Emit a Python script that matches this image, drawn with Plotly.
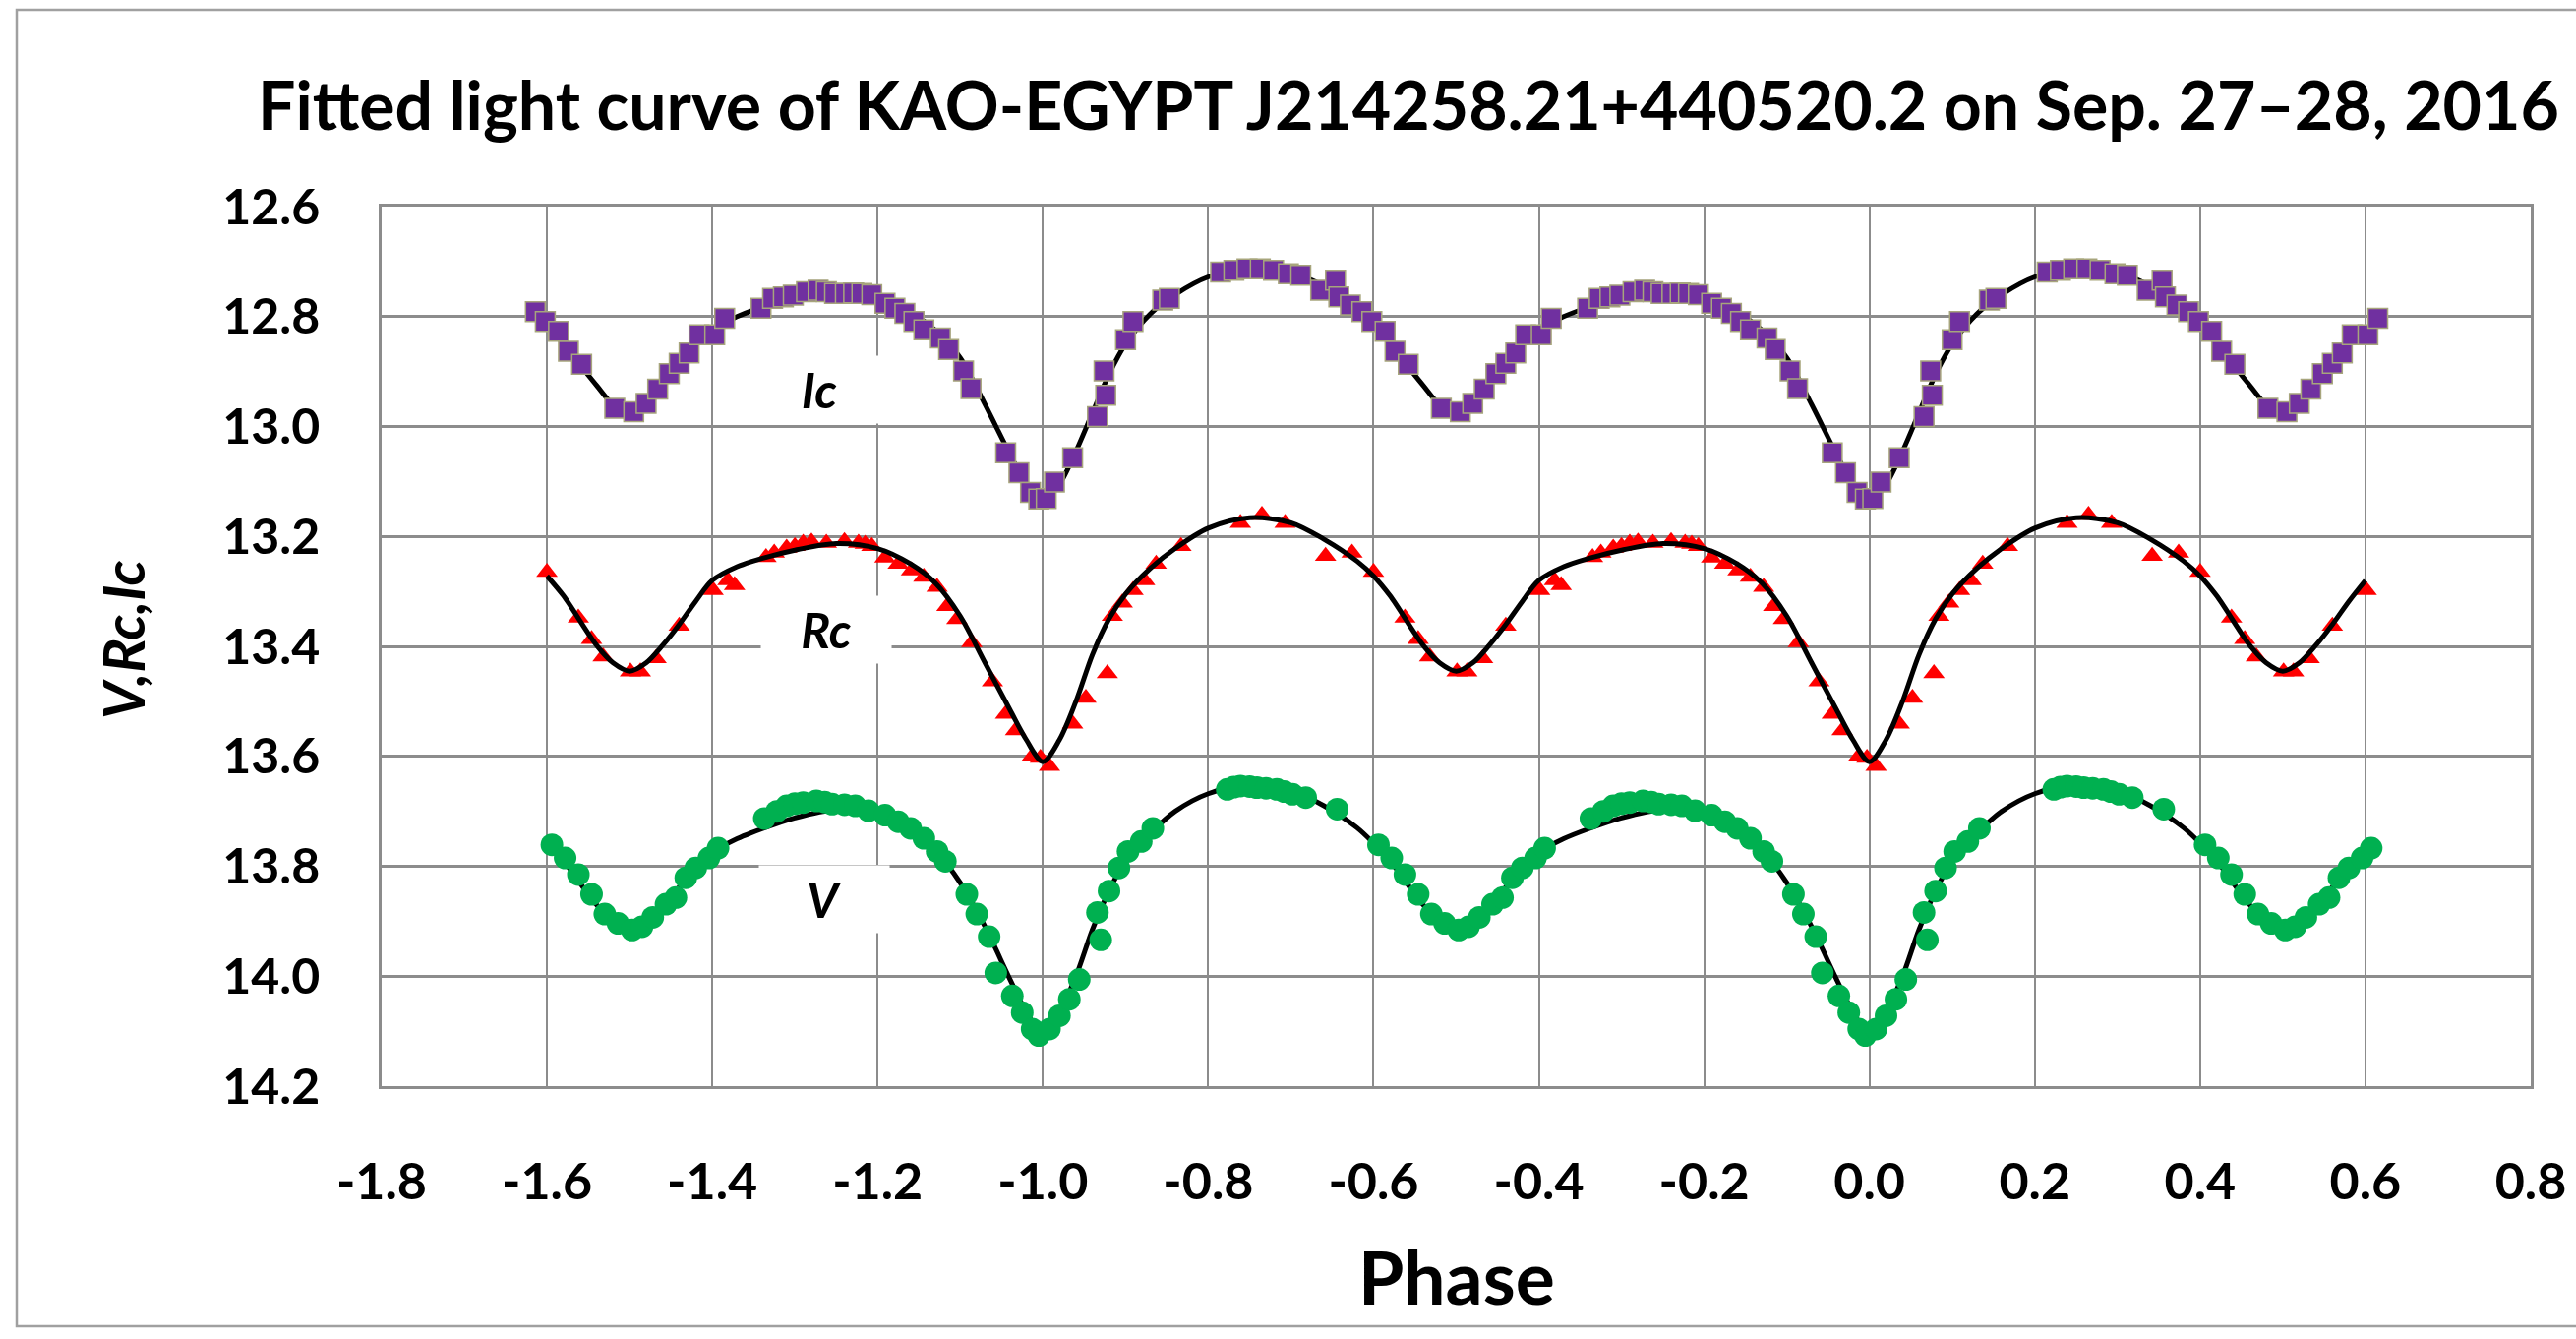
import plotly.graph_objects as go

# ---------------- data ----------------
# Observed magnitudes over one orbital cycle (phase, magnitude)
ic_phase = [-0.495, -0.480, -0.466, -0.452, -0.440, -0.428, -0.416, -0.397, -0.385, -0.341,
            -0.327, -0.314, -0.302, -0.286, -0.272, -0.262, -0.252, -0.239, -0.229, -0.219,
            -0.207, -0.191, -0.179, -0.167, -0.156, -0.144, -0.124, -0.114, -0.096, -0.087,
            -0.045, -0.029, -0.015, -0.005, 0.004, 0.014, 0.036, 0.066, 0.076, 0.074,
            0.100, 0.109, 0.145, 0.153, 0.215, 0.231, 0.247, 0.263, 0.279, 0.297,
            0.312, 0.336, 0.354, 0.358, 0.372, 0.386, 0.398, 0.414, 0.426, 0.442,
            0.482]
ic_mag = [12.973, 12.958, 12.932, 12.904, 12.885, 12.866, 12.833, 12.833, 12.803, 12.785,
          12.767, 12.764, 12.761, 12.755, 12.752, 12.755, 12.758, 12.758, 12.757, 12.758,
          12.760, 12.776, 12.785, 12.794, 12.809, 12.824, 12.839, 12.860, 12.899, 12.931,
          13.048, 13.084, 13.120, 13.132, 13.131, 13.101, 13.057, 12.982, 12.943, 12.899,
          12.842, 12.809, 12.770, 12.767, 12.719, 12.716, 12.713, 12.713, 12.716, 12.722,
          12.725, 12.752, 12.734, 12.764, 12.779, 12.791, 12.809, 12.827, 12.863, 12.887,
          12.967]

rc_phase = [-0.499, -0.487, -0.468, -0.440, -0.399, -0.381, -0.373, -0.335, -0.325, -0.310,
            -0.300, -0.290, -0.280, -0.262, -0.240, -0.223, -0.215, -0.207, -0.191, -0.175,
            -0.159, -0.144, -0.128, -0.116, -0.104, -0.086, -0.061, -0.045, -0.033, -0.013,
            -0.003, 0.008, 0.036, 0.052, 0.078, 0.084, 0.096, 0.109, 0.123, 0.137,
            0.167, 0.239, 0.265, 0.293, 0.342, 0.374, 0.400, 0.438, 0.454, 0.468]
rc_mag = [13.446, 13.446, 13.422, 13.363, 13.298, 13.280, 13.289, 13.238, 13.230, 13.221,
          13.218, 13.212, 13.210, 13.212, 13.209, 13.212, 13.214, 13.218, 13.239, 13.250,
          13.262, 13.274, 13.292, 13.327, 13.351, 13.393, 13.464, 13.523, 13.553, 13.600,
          13.603, 13.618, 13.541, 13.494, 13.449, 13.345, 13.321, 13.298, 13.280, 13.250,
          13.218, 13.176, 13.161, 13.176, 13.236, 13.230, 13.265, 13.348, 13.387, 13.419]

v_phase = [-0.497, -0.485, -0.472, -0.456, -0.444, -0.432, -0.420, -0.404, -0.393, -0.337,
           -0.322, -0.310, -0.300, -0.290, -0.274, -0.264, -0.255, -0.240, -0.227, -0.211,
           -0.191, -0.175, -0.160, -0.144, -0.128, -0.118, -0.092, -0.080, -0.065, -0.057,
           -0.037, -0.025, -0.013, -0.005, 0.008, 0.020, 0.032, 0.044, 0.070, 0.066,
           0.080, 0.092, 0.103, 0.119, 0.133, 0.223, 0.231, 0.239, 0.250, 0.259,
           0.270, 0.283, 0.292, 0.302, 0.318, 0.356, 0.406, 0.422, 0.438, 0.454,
           0.470, 0.486]
v_mag = [13.916, 13.910, 13.893, 13.869, 13.857, 13.821, 13.803, 13.785, 13.767, 13.713,
         13.700, 13.690, 13.686, 13.684, 13.681, 13.683, 13.687, 13.688, 13.690, 13.699,
         13.707, 13.719, 13.731, 13.749, 13.773, 13.791, 13.851, 13.887, 13.928, 13.994,
         14.036, 14.066, 14.096, 14.108, 14.096, 14.072, 14.042, 14.006, 13.934, 13.884,
         13.845, 13.803, 13.773, 13.755, 13.731, 13.660, 13.656, 13.654, 13.655, 13.657,
         13.658, 13.660, 13.664, 13.669, 13.675, 13.696, 13.761, 13.785, 13.815, 13.851,
         13.887, 13.904]

# Fitted model light curves over one cycle (phase knots, magnitude)
fit_phase = [-0.50, -0.48, -0.46, -0.44, -0.42, -0.40, -0.37, -0.34, -0.30, -0.25,
             -0.20, -0.16, -0.13, -0.10, -0.07, -0.04, -0.02, 0.00, 0.02, 0.04,
             0.06, 0.08, 0.10, 0.13, 0.16, 0.20, 0.25, 0.30, 0.34, 0.38,
             0.40, 0.42, 0.46, 0.48, 0.50]
ic_fit = [12.972, 12.960, 12.925, 12.885, 12.850, 12.822, 12.800, 12.783, 12.765, 12.757,
          12.764, 12.792, 12.825, 12.875, 12.960, 13.050, 13.105, 13.135, 13.105, 13.045,
          12.975, 12.905, 12.850, 12.795, 12.760, 12.728, 12.713, 12.720, 12.745, 12.785,
          12.812, 12.850, 12.925, 12.960, 12.972]
rc_fit = [13.445, 13.430, 13.398, 13.360, 13.318, 13.280, 13.255, 13.240, 13.225, 13.213,
          13.222, 13.250, 13.285, 13.345, 13.430, 13.515, 13.570, 13.610, 13.570, 13.500,
          13.415, 13.350, 13.305, 13.258, 13.222, 13.185, 13.166, 13.175, 13.205, 13.245,
          13.272, 13.308, 13.398, 13.430, 13.445]
v_fit = [13.912, 13.898, 13.870, 13.838, 13.805, 13.775, 13.750, 13.732, 13.712, 13.697,
         13.705, 13.735, 13.772, 13.830, 13.910, 14.005, 14.065, 14.105, 14.065, 14.000,
         13.915, 13.845, 13.790, 13.740, 13.700, 13.668, 13.652, 13.662, 13.690, 13.730,
         13.758, 13.790, 13.870, 13.898, 13.912]

x_ticks = [-1.8, -1.6, -1.4, -1.2, -1.0, -0.8, -0.6, -0.4, -0.2, 0.0, 0.2, 0.4, 0.6, 0.8]
x_tick_text = ["-1.8", "-1.6", "-1.4", "-1.2", "-1.0", "-0.8", "-0.6", "-0.4", "-0.2",
               "0.0", "0.2", "0.4", "0.6", "0.8"]
y_ticks = [12.6, 12.8, 13.0, 13.2, 13.4, 13.6, 13.8, 14.0, 14.2]
y_tick_text = ["12.6", "12.8", "13.0", "13.2", "13.4", "13.6", "13.8", "14.0", "14.2"]

PHASE_MIN, PHASE_MAX = -1.6, 0.6
CYCLE_SHIFTS = [-2, -1, 0, 1]


def fold_out(phases, mags, tol):
    """Repeat one cycle over the plotted phase window."""
    pts = []
    for s in CYCLE_SHIFTS:
        for p, m in zip(phases, mags):
            x = round(p + s, 4)
            if PHASE_MIN - tol <= x <= PHASE_MAX + tol:
                pts.append((x, m))
    pts = sorted(dict(pts).items())
    return [p for p, _ in pts], [m for _, m in pts]


# ---------------- figure geometry ----------------
W, H = 2619, 1361
L, R, T, B = 388, 46, 210, 257
PW, PH = W - L - R, H - T - B


def px(xp):
    return (xp - L) / PW


def py(yp):
    return (T + PH - yp) / PH


FONT = "Lato"
fig = go.Figure()

bands = [
    ("Ic", ic_phase, ic_mag, ic_fit,
     dict(symbol="square", size=20, color="#7030A0", line=dict(color="#A7A57C", width=1.5)), False),
    ("Rc", rc_phase, rc_mag, rc_fit,
     dict(symbol="triangle-up", size=19, color="#FF0000", line=dict(width=0)), True),
    ("V", v_phase, v_mag, v_fit,
     dict(symbol="circle", size=23, color="#00B050", line=dict(width=0)), False),
]

for name, ph, mg, fit, marker, line_on_top in bands:
    fx, fy = fold_out(fit_phase, fit, 1e-6)
    ox, oy = fold_out(ph, mg, 0.016)
    line_trace = go.Scatter(x=fx, y=fy, mode="lines", name=name + " fit",
                            line=dict(color="black", width=5, shape="spline", smoothing=0.9))
    obs_trace = go.Scatter(x=ox, y=oy, mode="markers", name=name, marker=marker)
    if line_on_top:
        fig.add_trace(obs_trace)
        fig.add_trace(line_trace)
    else:
        fig.add_trace(line_trace)
        fig.add_trace(obs_trace)

# band labels inside the plot
label_pos = {"Ic": (-1.27, 12.932), "Rc": (-1.262, 13.37), "V": (-1.265, 13.86)}
for txt, (lx, ly) in label_pos.items():
    fig.add_annotation(x=lx, y=ly, xref="x", yref="y", text=txt, showarrow=False,
                       font=dict(family=FONT, size=50, color="black", weight="bold", style="italic"),
                       bgcolor="white", width=130, height=66, align="center", valign="middle")

# axis titles
fig.add_annotation(x=0.5, y=py(1297), xref="paper", yref="paper", text="Phase", showarrow=False,
                   font=dict(family=FONT, size=75, color="black", weight="bold"),
                   xanchor="center", yanchor="middle")
fig.add_annotation(x=px(124), y=py(650), xref="paper", yref="paper", text="V,Rc,Ic",
                   showarrow=False, textangle=-90,
                   font=dict(family=FONT, size=58, color="black", weight="bold", style="italic"),
                   xanchor="center", yanchor="middle")

# outer chart frame
fig.add_shape(type="rect", xref="paper", yref="paper",
              x0=px(17), x1=px(2640), y0=py(1348), y1=py(10),
              line=dict(color="#A0A0A0", width=2.5), fillcolor="rgba(0,0,0,0)", layer="below")

grid_col = "#8C8C8C"
fig.update_layout(
    width=W, height=H,
    margin=dict(l=L, r=R, t=T, b=B, autoexpand=False),
    paper_bgcolor="white", plot_bgcolor="white",
    showlegend=False,
    title=dict(text="Fitted light curve of KAO-EGYPT J214258.21+440520.2 on Sep. 27\u201328, 2016",
               x=1432 / W, xref="container", xanchor="center",
               y=1 - 108 / H, yref="container", yanchor="middle",
               font=dict(family=FONT, size=68, color="black", weight="bold")),
    xaxis=dict(range=[-1.8, 0.8], tickvals=x_ticks, ticktext=x_tick_text,
               showgrid=True, gridcolor=grid_col, gridwidth=1.5,
               showline=True, mirror=True, linecolor=grid_col, linewidth=2.5,
               zeroline=False, ticks="", ticklabelstandoff=50,
               tickfont=dict(family=FONT, size=52, color="black", weight="bold")),
    yaxis=dict(range=[14.2, 12.6], tickvals=y_ticks, ticktext=y_tick_text,
               showgrid=True, gridcolor=grid_col, gridwidth=3,
               showline=True, mirror=True, linecolor=grid_col, linewidth=2.5,
               zeroline=False, ticks="", ticklabelstandoff=50,
               tickfont=dict(family=FONT, size=50, color="black", weight="bold")),
)

fig.write_html("out.html")
